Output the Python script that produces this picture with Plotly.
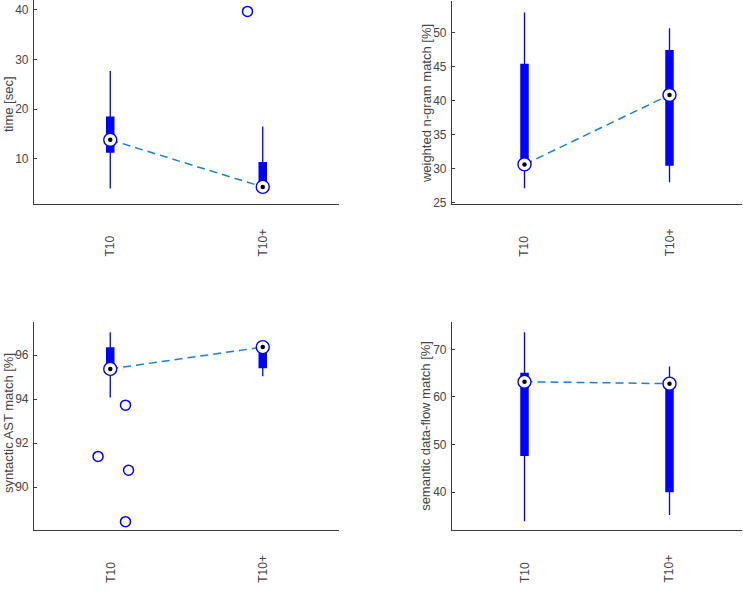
import plotly.graph_objects as go

W, H = 743, 593

categories = ["T10", "T10+"]

y_titles = ["time [sec]", "weighted n-gram match [%]",
            "syntactic AST match [%]", "semantic data-flow match [%]"]

# box statistics per panel: [T10, T10+]
time_lo = [4.0, 4.2]
time_q1 = [11.2, 4.3]
time_med = [13.8, 4.3]
time_q3 = [18.5, 9.3]
time_hi = [27.7, 16.5]
time_out_cat = [1]
time_out_val = [39.7]
time_out_jit = [-0.1]

ngram_lo = [27.1, 28.0]
ngram_q1 = [30.6, 30.4]
ngram_med = [30.6, 40.8]
ngram_q3 = [45.4, 47.4]
ngram_hi = [52.9, 50.6]
ngram_out_cat = []
ngram_out_val = []
ngram_out_jit = []

ast_lo = [94.08, 95.05]
ast_q1 = [95.38, 95.41]
ast_med = [95.38, 96.37]
ast_q3 = [96.36, 96.4]
ast_hi = [97.04, 96.5]
ast_out_cat = [0, 0, 0, 0]
ast_out_val = [93.73, 91.40, 90.77, 88.43]
ast_out_jit = [0.10, -0.08, 0.12, 0.10]

df_lo = [33.9, 35.2]
df_q1 = [47.6, 40.0]
df_med = [63.2, 62.8]
df_q3 = [65.1, 63.5]
df_hi = [73.6, 66.4]
df_out_cat = []
df_out_val = []
df_out_jit = []

yranges = [[0.8, 42.0], [24.75, 54.6], [88.03, 97.5], [31.94, 75.7]]
ytickvals = [[10, 20, 30, 40], [25, 30, 35, 40, 45, 50], [90, 92, 94, 96], [40, 50, 60, 70]]

panels = [
    (time_lo, time_q1, time_med, time_q3, time_hi, time_out_cat, time_out_val, time_out_jit),
    (ngram_lo, ngram_q1, ngram_med, ngram_q3, ngram_hi, ngram_out_cat, ngram_out_val, ngram_out_jit),
    (ast_lo, ast_q1, ast_med, ast_q3, ast_hi, ast_out_cat, ast_out_val, ast_out_jit),
    (df_lo, df_q1, df_med, df_q3, df_hi, df_out_cat, df_out_val, df_out_jit),
]

# pixel boxes of the axes: (left, right, top, bottom)
boxes_px = [(34, 339, 0, 206), (452, 742, 1, 206), (34, 339, 325, 535), (452, 742, 325, 535)]
ytitle_px = [(8, 105), (426, 104), (8.5, 427), (425.5, 430)]

BLUE = "#0000FF"
DASH = "#1F7FCF"
AX = "#3c3c3c"
TXT = "#454545"
FONT = "Liberation Sans, Arial, sans-serif"

fig = go.Figure()
xs = [1, 2]

for k, (lo, q1, med, q3, hi, ocat, oval, ojit) in enumerate(panels):
    xa = "x" if k == 0 else f"x{k+1}"
    ya = "y" if k == 0 else f"y{k+1}"
    for i in range(len(categories)):
        fig.add_trace(go.Scatter(x=[xs[i], xs[i]], y=[lo[i], hi[i]], mode="lines",
                                 line=dict(color=BLUE, width=1.3), xaxis=xa, yaxis=ya,
                                 hoverinfo="skip", showlegend=False))
        fig.add_trace(go.Scatter(x=[xs[i], xs[i]], y=[q1[i], q3[i]], mode="lines",
                                 line=dict(color=BLUE, width=8.5), xaxis=xa, yaxis=ya,
                                 hoverinfo="skip", showlegend=False))
    fig.add_trace(go.Scatter(x=xs, y=med, mode="lines",
                             line=dict(color=DASH, width=1.5, dash="8px,5px"),
                             xaxis=xa, yaxis=ya, showlegend=False))
    fig.add_trace(go.Scatter(x=xs, y=med, mode="markers",
                             marker=dict(symbol="circle", size=13, color="white",
                                         line=dict(color=BLUE, width=1.4)),
                             xaxis=xa, yaxis=ya, showlegend=False))
    fig.add_trace(go.Scatter(x=xs, y=med, mode="markers",
                             marker=dict(symbol="circle", size=4.5, color="black"),
                             xaxis=xa, yaxis=ya, showlegend=False))
    if oval:
        fig.add_trace(go.Scatter(x=[xs[c] + j for c, j in zip(ocat, ojit)], y=oval,
                                 mode="markers",
                                 marker=dict(symbol="circle-open", size=10, color=BLUE,
                                             line=dict(color=BLUE, width=1.5)),
                                 xaxis=xa, yaxis=ya, showlegend=False))

layout = dict(width=W, height=H, margin=dict(l=0, r=0, t=0, b=0),
              paper_bgcolor="white", plot_bgcolor="white", showlegend=False,
              font=dict(family=FONT, size=12, color=TXT))

annotations = []
for k in range(4):
    l, r, t, b = boxes_px[k]
    sx = "" if k == 0 else str(k + 1)
    layout["xaxis" + sx] = dict(domain=[l / W, r / W], range=[0.5, 2.5], anchor="y" + sx,
                                showline=True, linecolor=AX, linewidth=1.2, ticks="",
                                showticklabels=False, showgrid=False, zeroline=False,
                                fixedrange=True)
    layout["yaxis" + sx] = dict(domain=[1 - b / H, 1 - t / H], range=yranges[k],
                                anchor="x" + sx, showline=True, linecolor=AX, linewidth=1.2,
                                ticks="inside", ticklen=3, tickcolor=AX, tickwidth=1,
                                tickvals=ytickvals[k], showgrid=False, zeroline=False,
                                tickfont=dict(family=FONT, size=12, color=TXT),
                                ticklabelstandoff=2, fixedrange=True)
    # rotated category labels, aligned at their start
    for i, c in enumerate(categories):
        annotations.append(dict(x=xs[i], y=1 - (b + 55) / H, xref="x" + sx, yref="paper",
                                text=c, textangle=-90, showarrow=False,
                                xanchor="center", yanchor="bottom",
                                font=dict(family=FONT, size=12, color=TXT)))
    tx, ty = ytitle_px[k]
    annotations.append(dict(x=tx / W, y=1 - ty / H, xref="paper", yref="paper",
                            text=y_titles[k], textangle=-90, showarrow=False,
                            xanchor="center", yanchor="middle",
                            font=dict(family=FONT, size=13, color=TXT)))

layout["annotations"] = annotations
fig.update_layout(**layout)
fig.write_html("out.html")
